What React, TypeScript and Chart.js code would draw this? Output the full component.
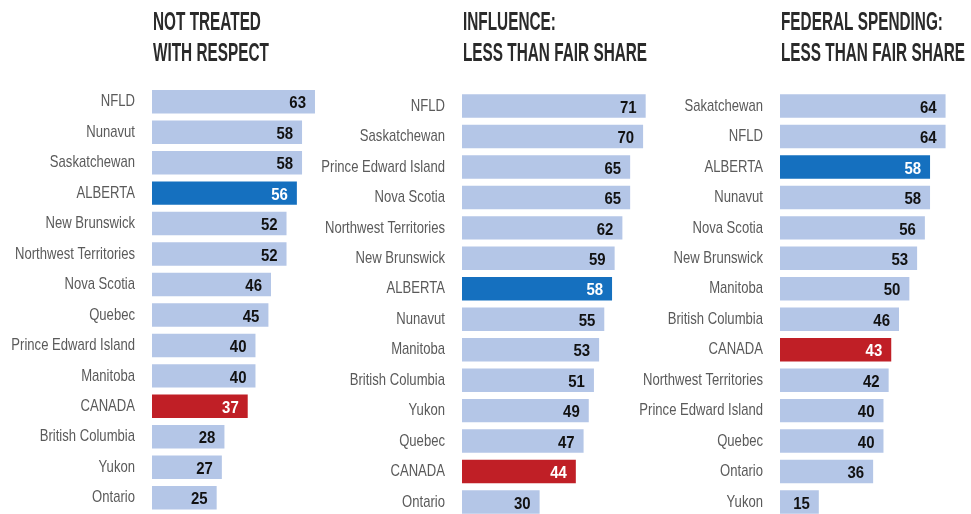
import React, { useEffect, useRef } from "react";
import { Chart, registerables } from "chart.js";

Chart.register(...registerables);

// ---------- DATA ----------
const respectTitle = ["NOT TREATED", "WITH RESPECT"];
const respectLabels = [
  "NFLD", "Nunavut", "Saskatchewan", "ALBERTA", "New Brunswick", "Northwest Territories",
  "Nova Scotia", "Quebec", "Prince Edward Island", "Manitoba", "CANADA",
  "British Columbia", "Yukon", "Ontario",
];
const respectValues = [63, 58, 58, 56, 52, 52, 46, 45, 40, 40, 37, 28, 27, 25];

const influenceTitle = ["INFLUENCE:", "LESS THAN FAIR SHARE"];
const influenceLabels = [
  "NFLD", "Saskatchewan", "Prince Edward Island", "Nova Scotia", "Northwest Territories",
  "New Brunswick", "ALBERTA", "Nunavut", "Manitoba", "British Columbia", "Yukon",
  "Quebec", "CANADA", "Ontario",
];
const influenceValues = [71, 70, 65, 65, 62, 59, 58, 55, 53, 51, 49, 47, 44, 30];

const spendingTitle = ["FEDERAL SPENDING:", "LESS THAN FAIR SHARE"];
const spendingLabels = [
  "Sakatchewan", "NFLD", "ALBERTA", "Nunavut", "Nova Scotia", "New Brunswick",
  "Manitoba", "British Columbia", "CANADA", "Northwest Territories",
  "Prince Edward Island", "Quebec", "Ontario", "Yukon",
];
const spendingValues = [64, 64, 58, 58, 56, 53, 50, 46, 43, 42, 40, 40, 36, 15];

// ---------- STYLE ----------
const LIGHT = "#b4c6e7";
const ALBERTA_C = "#1570bf";
const CANADA_C = "#c01f26";
const FONT = "'Liberation Sans', Arial, sans-serif";
const PX_PER_UNIT = 2.587;
const AREA_W = 191;
const CANVAS_H = 520;
const STEP = 30.46;

function barColor(label: string) {
  if (label === "ALBERTA") return ALBERTA_C;
  if (label === "CANADA") return CANADA_C;
  return LIGHT;
}

function drawScaledText(ctx: any, text: string, x: number, y: number, sx: number) {
  ctx.save();
  ctx.translate(x, y);
  ctx.scale(sx, 1);
  ctx.fillText(text, 0, 0);
  ctx.restore();
}

type PanelProps = {
  title: string[];
  labels: string[];
  values: number[];
  left: number;
  axisW: number;
  padTop: number;
};

function Panel({ title, labels, values, left, axisW, padTop }: PanelProps) {
  const ref = useRef<HTMLCanvasElement | null>(null);
  useEffect(() => {
    if (!ref.current) return;
    const textPlugin = {
      id: "panelText",
      afterDatasetsDraw(chart: any) {
        const ctx = chart.ctx;
        const area = chart.chartArea;
        const yScale = chart.scales.y;
        const meta = chart.getDatasetMeta(0);
        ctx.save();
        // title
        ctx.fillStyle = "#2a2a2a";
        ctx.font = `bold 26px ${FONT}`;
        ctx.textAlign = "left";
        ctx.textBaseline = "alphabetic";
        title.forEach((line, i) => {
          drawScaledText(ctx, line, area.left + 1, 29.5 + i * 31.5, 0.59);
        });
        // category labels
        ctx.fillStyle = "#5a5a5a";
        ctx.font = `17px ${FONT}`;
        ctx.textAlign = "right";
        ctx.textBaseline = "middle";
        labels.forEach((lab, i) => {
          drawScaledText(ctx, lab, area.left - 17, yScale.getPixelForValue(i), 0.77);
        });
        // value labels
        ctx.font = `bold 17px ${FONT}`;
        meta.data.forEach((bar: any, i: number) => {
          const lab = labels[i];
          ctx.fillStyle = lab === "ALBERTA" || lab === "CANADA" ? "#ffffff" : "#111111";
          drawScaledText(ctx, String(values[i]), bar.x - 9, bar.y + 2, 0.88);
        });
        ctx.restore();
      },
    };
    const chart = new Chart(ref.current, {
      type: "bar",
      data: {
        labels,
        datasets: [
          {
            data: values,
            backgroundColor: labels.map(barColor),
            borderWidth: 0,
            categoryPercentage: 1,
            barPercentage: 0.77,
          },
        ],
      },
      options: {
        indexAxis: "y",
        responsive: false,
        maintainAspectRatio: false,
        animation: false,
        devicePixelRatio: 1,
        layout: {
          padding: {
            top: padTop,
            bottom: CANVAS_H - padTop - 14 * STEP,
            left: axisW,
            right: 0,
          },
        },
        plugins: {
          legend: { display: false },
          title: { display: false },
          tooltip: { enabled: false },
        },
        scales: {
          x: { display: false, min: 0, max: AREA_W / PX_PER_UNIT },
          y: { display: false },
        },
      } as any,
      plugins: [textPlugin],
    });
    return () => chart.destroy();
  }, []);
  return (
    <canvas
      ref={ref}
      width={axisW + AREA_W}
      height={CANVAS_H}
      style={{ position: "absolute", left, top: 0, width: axisW + AREA_W, height: CANVAS_H }}
    />
  );
}

export default function App() {
  useEffect(() => {
    document.body.style.margin = "0";
    document.body.style.overflow = "hidden";
  }, []);
  return (
    <div style={{ position: "relative", width: 971, height: 514, overflow: "hidden", background: "#ffffff" }}>
      <Panel title={respectTitle} labels={respectLabels} values={respectValues} left={0} axisW={152} padTop={86.5} />
      <Panel title={influenceTitle} labels={influenceLabels} values={influenceValues} left={312} axisW={150} padTop={90.8} />
      <Panel title={spendingTitle} labels={spendingLabels} values={spendingValues} left={630} axisW={150} padTop={90.8} />
    </div>
  );
}
